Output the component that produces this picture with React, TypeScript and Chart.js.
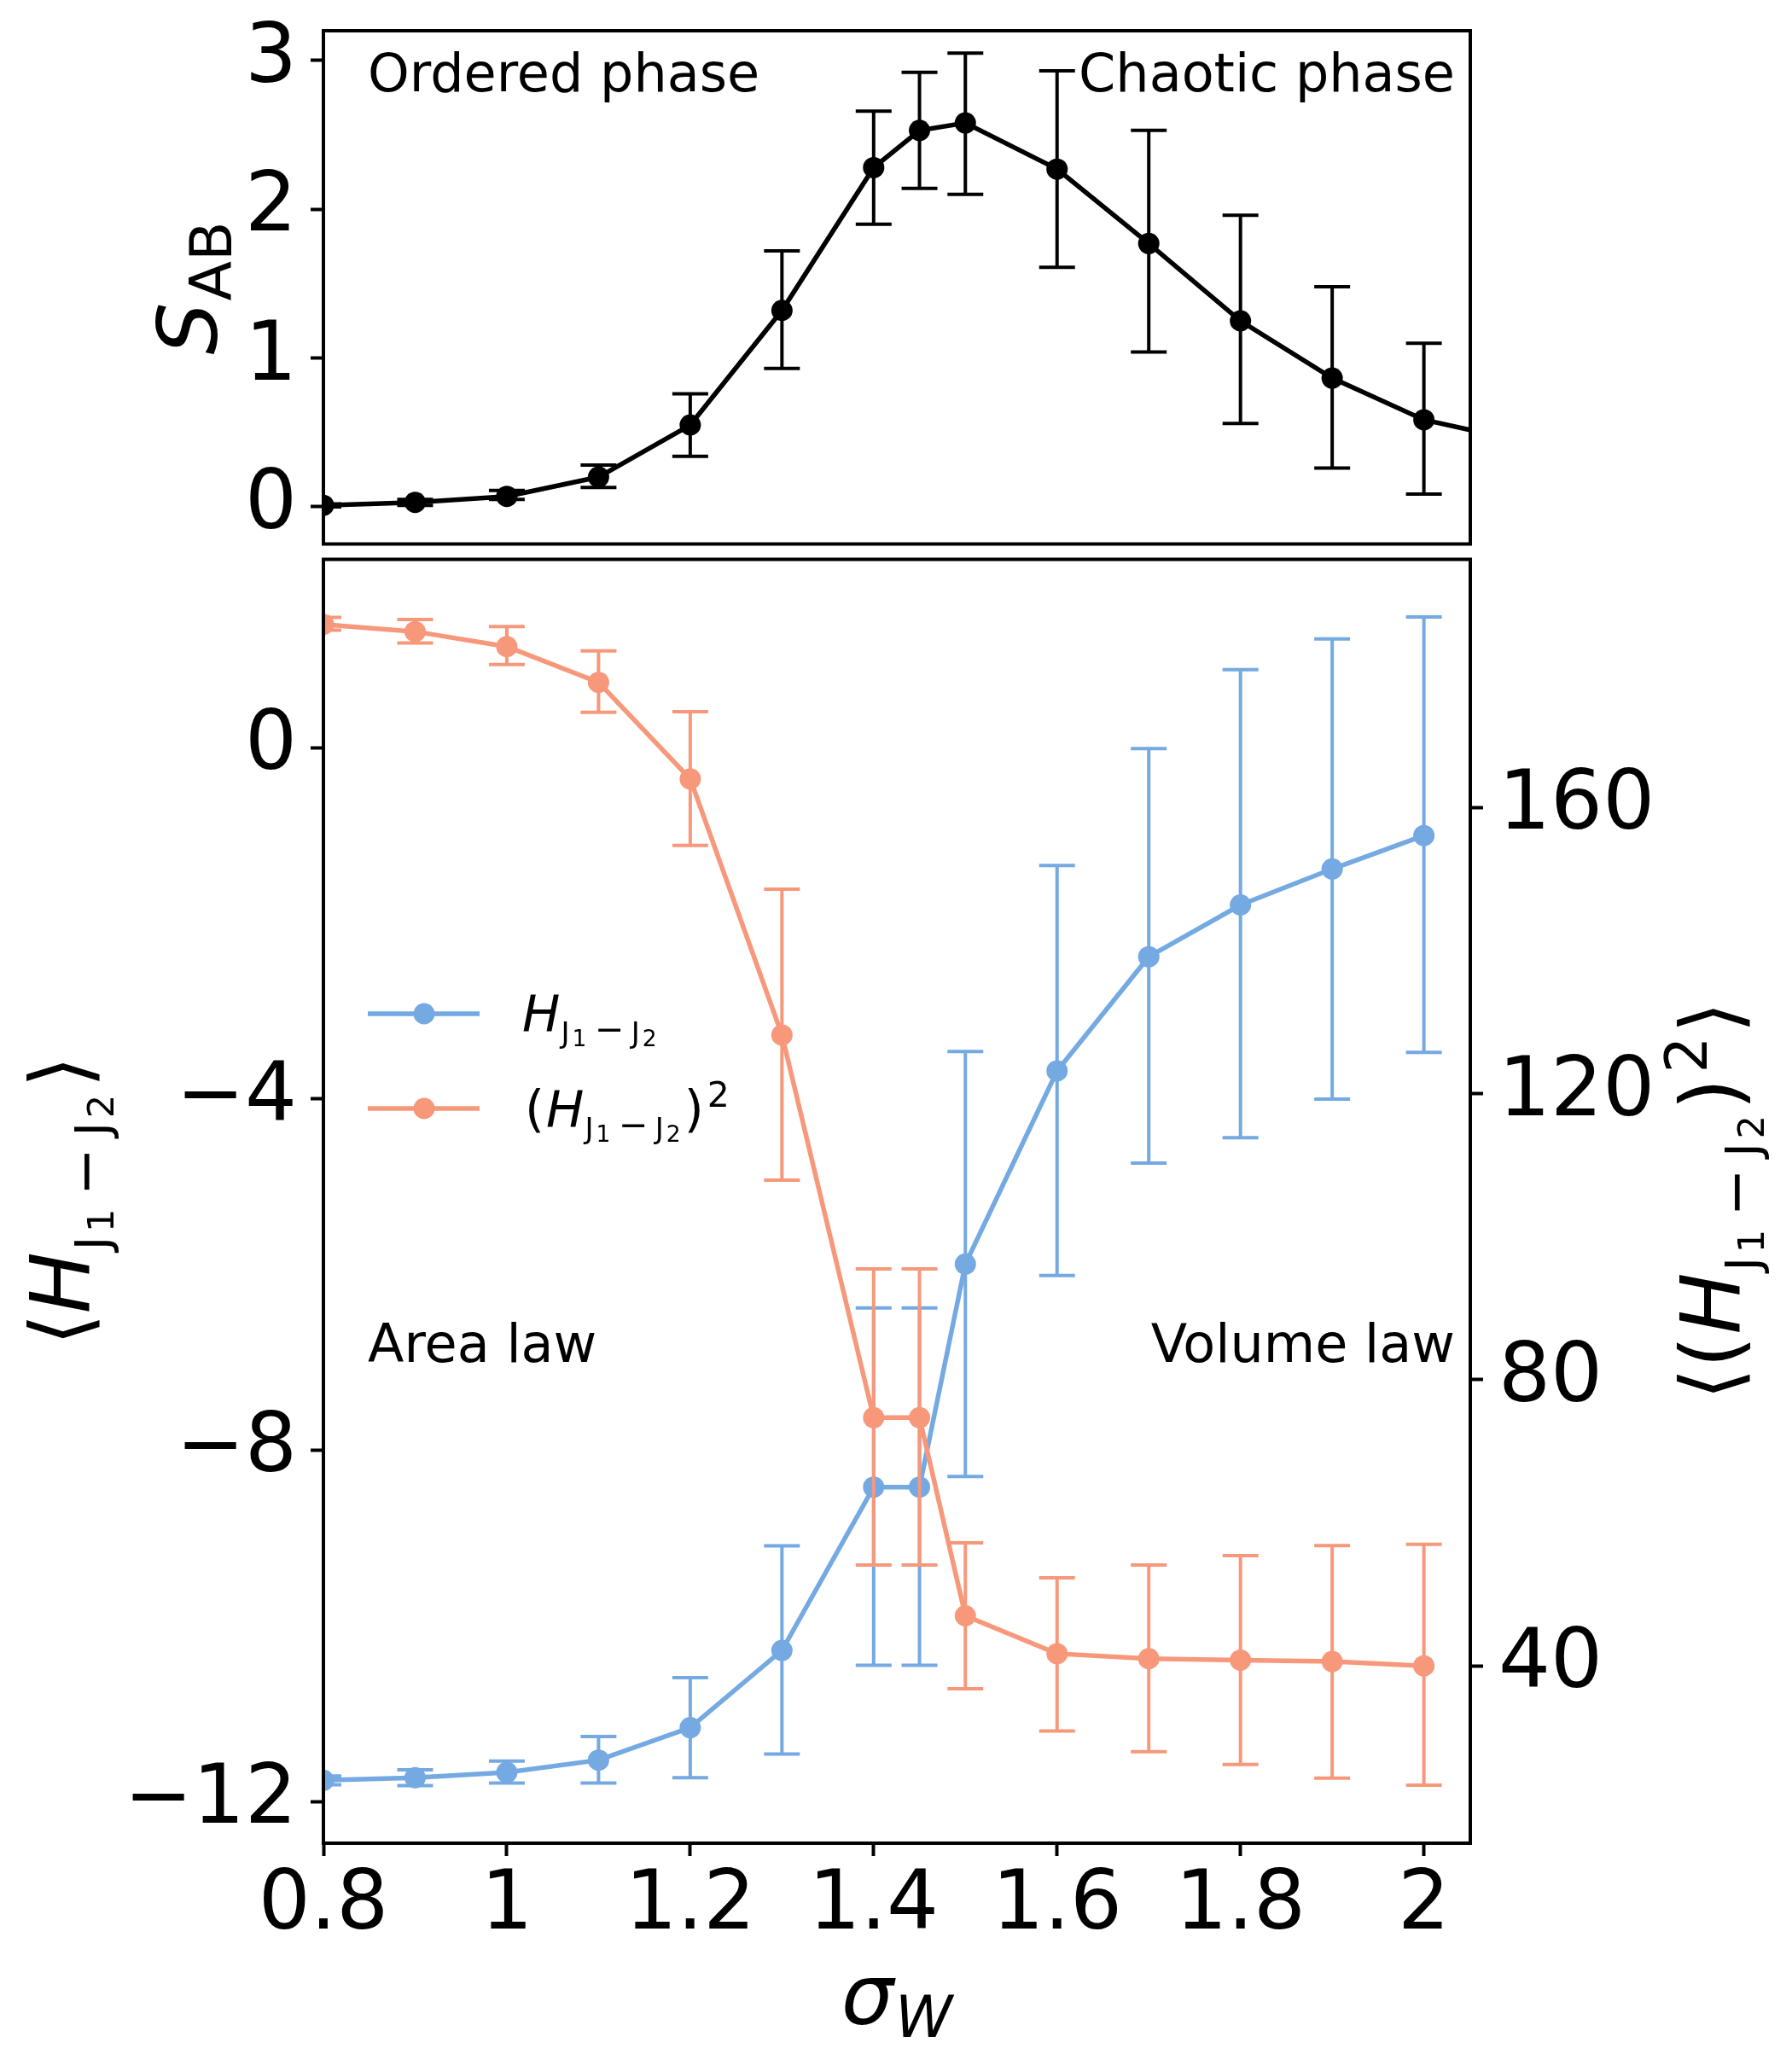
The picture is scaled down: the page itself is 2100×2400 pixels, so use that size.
import React, { useEffect, useRef } from "react";
import { Chart, registerables } from "chart.js";

Chart.register(...registerables);

// sigma_W values shared by every series
const sigma = [0.8, 0.9, 1.0, 1.1, 1.2, 1.3, 1.4, 1.45, 1.5, 1.6, 1.7, 1.8, 1.9, 2.0];
// the entanglement curve has one more point past the right edge (clipped)
const sigmaTop = [...sigma, 2.1];

const entropy = [0.01, 0.03, 0.07, 0.2, 0.55, 1.32, 2.28, 2.53, 2.58, 2.27, 1.77, 1.25, 0.865, 0.585, 0.45];
const entropyLow = [0.0, 0.01, 0.05, 0.13, 0.34, 0.93, 1.9, 2.14, 2.1, 1.61, 1.04, 0.56, 0.26, 0.086, null];
const entropyHigh = [0.02, 0.05, 0.11, 0.28, 0.76, 1.72, 2.66, 2.92, 3.05, 2.93, 2.53, 1.96, 1.48, 1.1, null];

const energy = [-11.76, -11.73, -11.67, -11.53, -11.16, -10.28, -8.42, -8.42, -5.88, -3.68, -2.38, -1.79, -1.38, -1.0];
const energyLow = [-11.81, -11.82, -11.79, -11.79, -11.73, -11.46, -10.45, -10.45, -8.3, -6.01, -4.73, -4.44, -4.0, -3.47];
const energyHigh = [-11.71, -11.64, -11.54, -11.26, -10.59, -9.09, -6.38, -6.38, -3.46, -1.34, -0.01, 0.89, 1.24, 1.49];

const energySq = [185.6, 184.6, 182.5, 177.5, 164.0, 128.2, 74.7, 74.7, 47.0, 41.7, 41.0, 40.8, 40.6, 40.0];
const energySqLow = [184.8, 183.0, 180.0, 173.3, 154.7, 107.9, 54.1, 54.1, 36.8, 30.9, 28.0, 26.2, 24.3, 23.3];
const energySqHigh = [186.6, 186.3, 185.3, 181.9, 173.4, 148.6, 95.5, 95.5, 57.2, 52.3, 54.1, 55.4, 56.8, 57.0];

const xTicks = [0.8, 1, 1.2, 1.4, 1.6, 1.8, 2];
const entropyTicks = [0, 1, 2, 3];
const energyTicks = [-12, -8, -4, 0];
const energySqTicks = [40, 80, 120, 160];

const BLUE = "rgb(116,169,226)";
const SALMON = "rgb(247,152,123)";
const FAMILY = "DejaVu Sans";

// page offset of the lower canvas
const LOWER_TOP = 643;

Chart.defaults.font.family = FAMILY;

type Run = { t: string; size: number; italic?: boolean; dy?: number; gap?: number };

const fontOf = (r: Run) => `${r.italic ? "italic " : ""}${r.size}px "${FAMILY}"`;

function drawRuns(
  ctx: CanvasRenderingContext2D,
  runs: Run[],
  x: number,
  y: number,
  align: "left" | "center" | "right",
  rotate = false
) {
  ctx.save();
  ctx.translate(x, y);
  if (rotate) ctx.rotate(-Math.PI / 2);
  ctx.textAlign = "left";
  ctx.textBaseline = "alphabetic";
  ctx.fillStyle = "#000";
  let w = 0;
  runs.forEach((r) => {
    ctx.font = fontOf(r);
    w += (r.gap || 0) + ctx.measureText(r.t).width;
  });
  let cx = align === "left" ? 0 : align === "center" ? -w / 2 : -w;
  runs.forEach((r) => {
    ctx.font = fontOf(r);
    cx += r.gap || 0;
    ctx.fillText(r.t, cx, r.dy || 0);
    cx += ctx.measureText(r.t).width;
  });
  ctx.restore();
}

// subscript "J1 - J2" relative to a base font size k
const jSub = (k: number): Run[] => [
  { t: "J", size: 0.58 * k, dy: 0.24 * k, gap: 0.02 * k },
  { t: "1", size: 0.45 * k, dy: 0.3 * k, gap: 0.05 * k },
  { t: "\u2212", size: 0.7 * k, dy: 0.2 * k, gap: 0.16 * k },
  { t: "J", size: 0.58 * k, dy: 0.24 * k, gap: 0.14 * k },
  { t: "2", size: 0.45 * k, dy: 0.3 * k, gap: 0.05 * k },
];

const fmt = (v: number) => (v < 0 ? "\u2212" + Math.abs(v) : String(v));

const tickFont = { family: FAMILY, size: 96 };
const tickGrid = {
  drawOnChartArea: false,
  drawTicks: true,
  tickLength: 15,
  tickWidth: 4,
  tickColor: "#000",
};

// no extra room for half tick labels: the plot area is fixed
const noPad = (s: any) => {
  s.paddingTop = 0;
  s.paddingBottom = 0;
  s.paddingLeft = 0;
  s.paddingRight = 0;
};

const errorBars = {
  id: "errorBars",
  beforeDatasetDraw(chart: any, args: any) {
    const ds: any = chart.data.datasets[args.index];
    if (!ds.errLow) return;
    const meta = args.meta;
    const xs = chart.scales[meta.xAxisID];
    const ys = chart.scales[meta.yAxisID];
    const ctx: CanvasRenderingContext2D = chart.ctx;
    const a = chart.chartArea;
    ctx.save();
    ctx.beginPath();
    ctx.rect(a.left, a.top, a.right - a.left, a.bottom - a.top);
    ctx.clip();
    ctx.strokeStyle = ds.borderColor;
    ctx.lineWidth = 4;
    ds.data.forEach((p: any, i: number) => {
      const lo = ds.errLow[i];
      const hi = ds.errHigh[i];
      if (lo == null || hi == null) return;
      const px = xs.getPixelForValue(p.x);
      const y1 = ys.getPixelForValue(lo);
      const y2 = ys.getPixelForValue(hi);
      ctx.beginPath();
      ctx.moveTo(px, y1);
      ctx.lineTo(px, y2);
      ctx.moveTo(px - 21, y1);
      ctx.lineTo(px + 21, y1);
      ctx.moveTo(px - 21, y2);
      ctx.lineTo(px + 21, y2);
      ctx.stroke();
    });
    ctx.restore();
  },
};

const frame = (chart: any) => {
  const ctx: CanvasRenderingContext2D = chart.ctx;
  const a = chart.chartArea;
  ctx.save();
  ctx.strokeStyle = "#000";
  ctx.lineWidth = 4;
  ctx.strokeRect(a.left, a.top, a.right - a.left, a.bottom - a.top);
  ctx.restore();
};

const lineStyle = (color: string) => ({
  borderColor: color,
  backgroundColor: color,
  borderWidth: 5.5,
  pointRadius: 12.5,
  pointHoverRadius: 12.5,
  pointBorderWidth: 0,
  pointBackgroundColor: color,
  tension: 0,
  clip: 0,
});

const TopPanel: React.FC = () => {
  const ref = useRef<HTMLCanvasElement | null>(null);

  useEffect(() => {
    if (!ref.current) return;
    const chart = new Chart(ref.current, {
      type: "line",
      data: {
        datasets: [
          {
            ...lineStyle("#000"),
            data: sigmaTop.map((x, i) => ({ x, y: entropy[i] })),
            errLow: entropyLow,
            errHigh: entropyHigh,
          } as any,
        ],
      },
      options: {
        animation: false,
        responsive: false,
        devicePixelRatio: 1,
        layout: { padding: { left: 0, right: 377, top: 36, bottom: 11 } },
        plugins: { legend: { display: false }, tooltip: { enabled: false } },
        events: [],
        scales: {
          x: { type: "linear", min: 0.8, max: 2.0506, display: false },
          y: {
            type: "linear",
            position: "left",
            min: -0.25,
            max: 3.2,
            afterBuildTicks: (s: any) => {
              s.ticks = entropyTicks.map((v) => ({ value: v }));
            },
            afterFit: (s: any) => {
              s.width = 379;
              noPad(s);
            },
            ticks: { font: tickFont, color: "#000", padding: 16, callback: (v: any) => fmt(Number(v)) },
            grid: tickGrid,
            border: { display: false },
          },
        },
      },
      plugins: [
        errorBars,
        {
          id: "topDecor",
          afterDraw(c: any) {
            frame(c);
            const ctx = c.ctx;
            drawRuns(ctx, [{ t: "Ordered phase", size: 62 }], 431, 107, "left");
            drawRuns(ctx, [{ t: "Chaotic phase", size: 62 }], 1705, 107, "right");
            drawRuns(
              ctx,
              [
                { t: "S", size: 96, italic: true },
                { t: "AB", size: 68, dy: 17, gap: 2 },
              ],
              254,
              337.5,
              "center",
              true
            );
          },
        },
      ],
    });
    return () => chart.destroy();
  }, []);

  return (
    <canvas
      ref={ref}
      width={2100}
      height={650}
      style={{ position: "absolute", left: 0, top: 0, width: 2100, height: 650 }}
    />
  );
};

const BottomPanel: React.FC = () => {
  const ref = useRef<HTMLCanvasElement | null>(null);

  useEffect(() => {
    if (!ref.current) return;
    // page y -> canvas y
    const py = (y: number) => y - LOWER_TOP;
    const chart = new Chart(ref.current, {
      type: "line",
      data: {
        datasets: [
          {
            ...lineStyle(BLUE),
            label: "H",
            yAxisID: "y",
            order: 2,
            data: sigma.map((x, i) => ({ x, y: energy[i] })),
            errLow: energyLow,
            errHigh: energyHigh,
          } as any,
          {
            ...lineStyle(SALMON),
            label: "H2",
            yAxisID: "y2",
            order: 1,
            data: sigma.map((x, i) => ({ x, y: energySq[i] })),
            errLow: energySqLow,
            errHigh: energySqHigh,
          } as any,
        ],
      },
      options: {
        animation: false,
        responsive: false,
        devicePixelRatio: 1,
        layout: { padding: { left: 0, right: 0, top: 4.4, bottom: 0 } },
        plugins: { legend: { display: false }, tooltip: { enabled: false } },
        events: [],
        scales: {
          x: {
            type: "linear",
            position: "bottom",
            min: 0.8,
            max: 2.0506,
            afterBuildTicks: (s: any) => {
              s.ticks = xTicks.map((v) => ({ value: v }));
            },
            afterFit: (s: any) => {
              s.height = 240;
              noPad(s);
            },
            ticks: {
              font: { ...tickFont, lineHeight: 1 },
              color: "#000",
              padding: 12,
              maxRotation: 0,
              autoSkip: false,
              callback: (v: any) => fmt(Number(v)),
            },
            grid: tickGrid,
            border: { display: false },
          },
          y: {
            type: "linear",
            position: "left",
            min: -12.476,
            max: 2.146,
            afterBuildTicks: (s: any) => {
              s.ticks = energyTicks.map((v) => ({ value: v }));
            },
            afterFit: (s: any) => {
              s.width = 379;
              noPad(s);
            },
            ticks: { font: tickFont, color: "#000", padding: 16, callback: (v: any) => fmt(Number(v)) },
            grid: tickGrid,
            border: { display: false },
          },
          y2: {
            type: "linear",
            position: "right",
            min: 15.2,
            max: 194.7,
            afterBuildTicks: (s: any) => {
              s.ticks = energySqTicks.map((v) => ({ value: v }));
            },
            afterFit: (s: any) => {
              s.width = 377;
              noPad(s);
            },
            ticks: { font: tickFont, color: "#000", padding: 18, callback: (v: any) => fmt(Number(v)) },
            grid: tickGrid,
            border: { display: false },
          },
        },
      },
      plugins: [
        errorBars,
        {
          id: "bottomDecor",
          afterDraw(c: any) {
            frame(c);
            const ctx: CanvasRenderingContext2D = c.ctx;
            drawRuns(ctx, [{ t: "Area law", size: 62 }], 431, py(1596), "left");
            drawRuns(ctx, [{ t: "Volume law", size: 62 }], 1705, py(1596), "right");

            // legend
            [
              { color: BLUE, y: py(1188) },
              { color: SALMON, y: py(1299) },
            ].forEach((item) => {
              ctx.save();
              ctx.strokeStyle = item.color;
              ctx.lineWidth = 5.5;
              ctx.beginPath();
              ctx.moveTo(431, item.y);
              ctx.lineTo(562, item.y);
              ctx.stroke();
              ctx.fillStyle = item.color;
              ctx.beginPath();
              ctx.arc(497, item.y, 12.5, 0, Math.PI * 2);
              ctx.fill();
              ctx.restore();
            });
            drawRuns(ctx, [{ t: "H", size: 59, italic: true }, ...jSub(59)], 612, py(1208), "left");
            drawRuns(
              ctx,
              [
                { t: "(", size: 59 },
                { t: "H", size: 59, italic: true, gap: 2 },
                ...jSub(59),
                { t: ")", size: 59, gap: 4 },
                { t: "2", size: 41, dy: -23, gap: 4 },
              ],
              615,
              py(1320),
              "left"
            );

            // axis titles
            drawRuns(
              ctx,
              [
                { t: "\u27E8", size: 96 },
                { t: "H", size: 96, italic: true },
                ...jSub(96),
                { t: "\u27E9", size: 96, gap: 8 },
              ],
              104,
              py(1407),
              "center",
              true
            );
            drawRuns(
              ctx,
              [
                { t: "\u27E8", size: 96 },
                { t: "(", size: 96 },
                { t: "H", size: 96, italic: true, gap: 2 },
                ...jSub(96),
                { t: ")", size: 96, gap: 6 },
                { t: "2", size: 67, dy: -38, gap: 6 },
                { t: "\u27E9", size: 96, gap: 4 },
              ],
              2038,
              py(1407),
              "center",
              true
            );
            drawRuns(
              ctx,
              [
                { t: "\u03C3", size: 97, italic: true },
                { t: "W", size: 68, italic: true, dy: 15, gap: 2 },
              ],
              1051,
              py(2372),
              "center"
            );
          },
        },
      ],
    });
    return () => chart.destroy();
  }, []);

  return (
    <canvas
      ref={ref}
      width={2100}
      height={2400 - LOWER_TOP}
      style={{ position: "absolute", left: 0, top: LOWER_TOP, width: 2100, height: 2400 - LOWER_TOP }}
    />
  );
};

export default function App() {
  return (
    <div
      style={{
        position: "fixed",
        left: 0,
        top: 0,
        width: 2100,
        height: 2400,
        background: "#fff",
        overflow: "hidden",
      }}
    >
      <TopPanel />
      <BottomPanel />
    </div>
  );
}
